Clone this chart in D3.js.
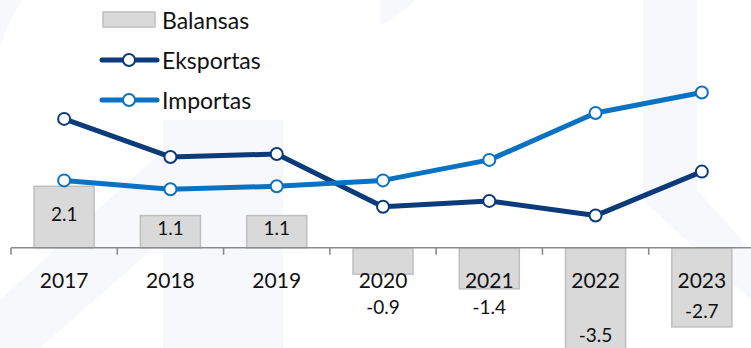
<!DOCTYPE html>
<html>
<head>
<meta charset="utf-8">
<script src="https://cdn.jsdelivr.net/npm/d3@7"></script>
<style>
  html, body { margin: 0; padding: 0; background: #ffffff; }
  svg { display: block; }
  text { font-family: Lato, "Open Sans", sans-serif; fill: #111; }
</style>
</head>
<body>
<svg id="chart" width="751" height="348"></svg>
<script>
// Years on the category axis
const years = ["2017", "2018", "2019", "2020", "2021", "2022", "2023"];
// Trade balance (bars)
const balansas = [2.1, 1.1, 1.1, -0.9, -1.4, -3.5, -2.7];
// Exports and imports (lines, right-hand scale)
const eksportas = [74.4, 73.1, 73.2, 71.4, 71.6, 71.1, 72.6];
const importas  = [72.3, 72.0, 72.1, 72.3, 73.0, 74.6, 75.3];

const W = 751, H = 348;
const svg = d3.select("#chart");

// faint background emblem
const bg = svg.append("g").attr("fill", "#f7f8fb");
bg.append("path").attr("d", "M163,120 L283,120 L283,348 L163,348 Z");
bg.append("path").attr("d", "M0,300 L163,150 L163,240 L40,348 L0,348 Z");
bg.append("path").attr("d", "M643,0 L697,0 L697,190 L751,250 L751,300 L643,200 Z");
bg.append("path").attr("d", "M0,0 L22,0 Q10,20 0,45 Z");
bg.append("path").attr("d", "M380,0 L415,0 Q400,15 380,25 Z");

const x = d3.scaleBand().domain(years).range([11, 755]).padding(0);
const y = d3.scaleLinear().domain([-4, 6]).range([365, 72]);
const y2 = d3.scaleLinear().domain([66, 76]).range([365, 72]);
const barW = x.bandwidth() * 0.565;
const cx = d => x(d) + x.bandwidth() / 2;

// bars
svg.append("g").selectAll("rect").data(years).join("rect")
  .attr("x", (d) => cx(d) - barW / 2)
  .attr("y", (d, i) => Math.min(y(balansas[i]), y(0)))
  .attr("width", barW)
  .attr("height", (d, i) => Math.abs(y(balansas[i]) - y(0)))
  .attr("fill", "#d9d9d9")
  .attr("stroke", "#bfbfbf")
  .attr("stroke-width", 1.5);

// category axis: baseline with ticks between categories
const ax = svg.append("g").attr("transform", `translate(0,${y(0)})`);
ax.append("line").attr("x1", 11).attr("x2", W).attr("y1", 0).attr("y2", 0)
  .attr("stroke", "#8c8c8c").attr("stroke-width", 1.6);
ax.selectAll("line.tick").data(years).join("line").attr("class", "tick")
  .attr("x1", d => x(d)).attr("x2", d => x(d))
  .attr("y1", 0).attr("y2", 7)
  .attr("stroke", "#8c8c8c").attr("stroke-width", 1.6);

// lines
const series = [
  { name: "Eksportas", values: eksportas, color: "#0b3b7a" },
  { name: "Importas",  values: importas,  color: "#0a72c2" }
];
const line = d3.line().x((d, i) => cx(years[i])).y(d => y2(d));
series.forEach(s => {
  const g = svg.append("g");
  g.append("path").datum(s.values).attr("d", line)
    .attr("fill", "none").attr("stroke", s.color).attr("stroke-width", 5)
    .attr("stroke-linejoin", "round");
  g.selectAll("circle").data(s.values).join("circle")
    .attr("cx", (d, i) => cx(years[i])).attr("cy", d => y2(d))
    .attr("r", 6).attr("fill", "#fff").attr("stroke", s.color).attr("stroke-width", 2);
});

// year labels
svg.append("g").selectAll("text").data(years).join("text")
  .attr("x", d => cx(d)).attr("y", 279)
  .attr("text-anchor", "middle").attr("dominant-baseline", "central")
  .attr("font-size", 21).text(d => d);

// value labels
svg.append("g").selectAll("text").data(years).join("text")
  .attr("x", d => cx(d))
  .attr("y", (d, i) => {
    const v = balansas[i];
    return v >= 0 ? (y(v) + y(0)) / 2 - 4 : Math.max(306, y(v) - 16);
  })
  .attr("text-anchor", "middle").attr("dominant-baseline", "central")
  .attr("font-size", 19).text((d, i) => balansas[i].toFixed(1));

// legend
const lg = svg.append("g");
lg.append("rect").attr("x", 103).attr("y", 12).attr("width", 52).attr("height", 15)
  .attr("fill", "#d9d9d9").attr("stroke", "#bfbfbf").attr("stroke-width", 1.5);
lg.append("text").attr("x", 162).attr("y", 20).attr("dominant-baseline", "central")
  .attr("font-size", 23).text("Balansas");
series.forEach((s, i) => {
  const ly = 60 + i * 40;
  lg.append("line").attr("x1", 102).attr("x2", 157).attr("y1", ly).attr("y2", ly)
    .attr("stroke", s.color).attr("stroke-width", 5).attr("stroke-linecap", "round");
  lg.append("circle").attr("cx", 129).attr("cy", ly).attr("r", 6)
    .attr("fill", "#fff").attr("stroke", s.color).attr("stroke-width", 2);
  lg.append("text").attr("x", 162).attr("y", ly).attr("dominant-baseline", "central")
    .attr("font-size", 23).text(s.name);
});
</script>
</body>
</html>
